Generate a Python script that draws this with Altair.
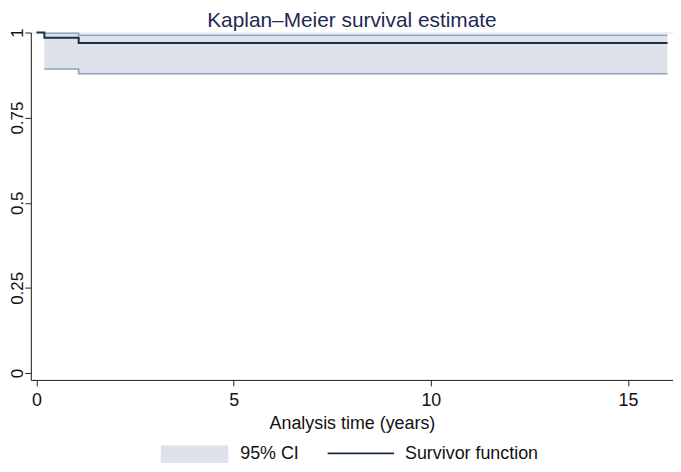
import altair as alt
import pandas as pd

# Kaplan-Meier estimate
km_time = [0.0, 0.2, 1.07, 16.0]
km_surv = [1.0, 0.985, 0.969, 0.969]

# 95% confidence band (starts at first failure)
ci_time = [0.2, 1.07, 16.0]
ci_lower = [0.893, 0.879, 0.879]
ci_upper = [0.998, 0.992, 0.992]

x_ticks = [0, 5, 10, 15]
y_ticks = [0, 0.25, 0.5, 0.75, 1]

legend_labels = ["95% CI", "Survivor function"]

FONT = "Liberation Sans"
BAND_FILL = "#dde2ea"
BAND_EDGE = "#8fa2bb"
LINE_COL = "#1b2d4b"
FS = 18

km = pd.DataFrame({"t": km_time, "s": km_surv})
ci = pd.DataFrame({"t": ci_time, "lo": ci_lower, "hi": ci_upper})

xscale = alt.Scale(domain=[-0.143, 16.14], nice=False, zero=False)
yscale = alt.Scale(domain=[-0.0204, 1.0], nice=False, zero=False)

xaxis = alt.Axis(values=x_ticks, format="d", title="Analysis time (years)", grid=False,
                 domainColor="#222222", tickColor="#222222", tickSize=6,
                 labelFont=FONT, labelFontSize=FS, labelColor="#111111", labelPadding=6,
                 titleFont=FONT, titleFontSize=FS, titleFontWeight="normal",
                 titleColor="#111111", titlePadding=5)
yaxis = alt.Axis(values=y_ticks, format=".2~f", title=None, grid=False,
                 domainColor="#222222", tickColor="#222222", tickSize=6,
                 labelFont=FONT, labelFontSize=17, labelColor="#111111",
                 labelAngle=270, labelAlign="center", labelBaseline="alphabetic",
                 labelPadding=2)

band = alt.Chart(ci).mark_area(interpolate="step-after", color=BAND_FILL, opacity=1).encode(
    x=alt.X("t:Q", scale=xscale, axis=xaxis),
    y=alt.Y("lo:Q", scale=yscale, axis=yaxis),
    y2="hi:Q",
)
band_lo = alt.Chart(ci).mark_line(interpolate="step-after", color=BAND_EDGE, strokeWidth=1.6).encode(
    x=alt.X("t:Q", scale=xscale), y=alt.Y("lo:Q", scale=yscale)
)
band_hi = alt.Chart(ci).mark_line(interpolate="step-after", color=BAND_EDGE, strokeWidth=1.6).encode(
    x=alt.X("t:Q", scale=xscale), y=alt.Y("hi:Q", scale=yscale)
)
surv = alt.Chart(km).mark_line(interpolate="step-after", color=LINE_COL, strokeWidth=2).encode(
    x=alt.X("t:Q", scale=xscale), y=alt.Y("s:Q", scale=yscale)
)

# legend (drawn below the plot)
leg_ci = pd.DataFrame({"label": [legend_labels[0]]})
leg_sf = pd.DataFrame({"label": [legend_labels[1]]})

leg_box = alt.Chart(leg_ci).mark_rect(color=BAND_FILL).encode(
    x=alt.value(131), x2=alt.value(199), y=alt.value(416), y2=alt.value(434)
)
leg_line = alt.Chart(leg_sf).mark_rule(color=LINE_COL, strokeWidth=1.6).encode(
    x=alt.value(299), x2=alt.value(366), y=alt.value(424)
)
leg_txt1 = alt.Chart(leg_ci).mark_text(align="left", baseline="middle", font=FONT,
                                       fontSize=FS, color="#111111").encode(
    x=alt.value(211), y=alt.value(425), text="label:N"
)
leg_txt2 = alt.Chart(leg_sf).mark_text(align="left", baseline="middle", font=FONT,
                                       fontSize=FS, color="#111111").encode(
    x=alt.value(377), y=alt.value(425), text="label:N"
)

chart = alt.layer(band, band_lo, band_hi, surv, leg_box, leg_line, leg_txt1, leg_txt2).properties(
    width=647,
    height=350,
    title=alt.TitleParams("Kaplan\u2013Meier survival estimate", font=FONT, fontSize=21,
                          fontWeight="normal", color="#1e2a52", anchor="middle", offset=-3),
    autosize=alt.AutoSizeParams(type="none"),
    padding={"left": 23, "top": 23, "right": 0, "bottom": 82},
).configure_view(stroke=None).configure(background="white")

chart.save("out.html", embed_options={"renderer": "svg", "actions": False})
